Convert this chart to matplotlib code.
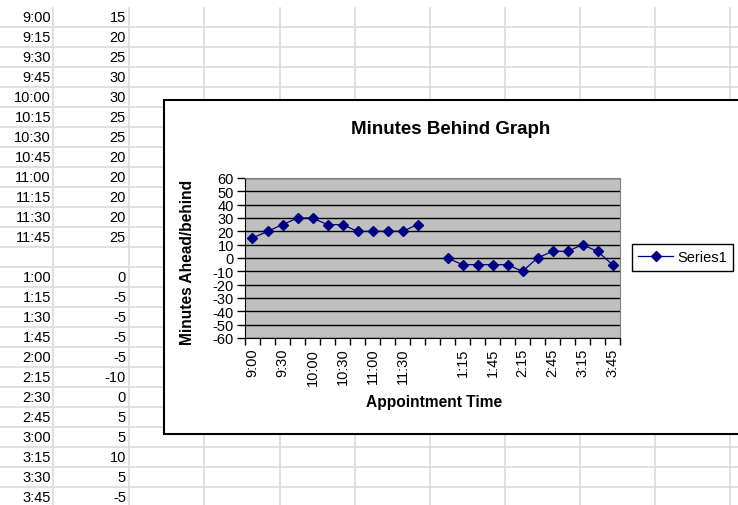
import numpy as np
import matplotlib.pyplot as plt
from matplotlib.patches import Rectangle

plt.rcParams['font.family'] = ['Liberation Sans', 'DejaVu Sans']
plt.rcParams['axes.unicode_minus'] = False

# spreadsheet data (two blocks, blank row between)
times_am = ['9:00', '9:15', '9:30', '9:45', '10:00', '10:15', '10:30', '10:45',
            '11:00', '11:15', '11:30', '11:45']
vals_am = [15, 20, 25, 30, 30, 25, 25, 20, 20, 20, 20, 25]
times_pm = ['1:00', '1:15', '1:30', '1:45', '2:00', '2:15', '2:30', '2:45',
            '3:00', '3:15', '3:30', '3:45']
vals_pm = [0, -5, -5, -5, -5, -10, 0, 5, 5, 10, 5, -5]

categories = times_am + [''] + times_pm
values = vals_am + [np.nan] + vals_pm

W, H = 738, 506
fig = plt.figure(figsize=(W / 100, H / 100), dpi=100)
fig.patch.set_facecolor('white')

# ---- worksheet background ----
bg = fig.add_axes([0, 0, 1, 1])
bg.set_xlim(0, W)
bg.set_ylim(H, 0)
bg.axis('off')

grid_col = '#dadada'
col_edges = [53, 129, 204, 280, 355, 430, 505, 580, 655, 730]
for x in col_edges:
    bg.plot([x, x], [9, H], color=grid_col, lw=1.2, zorder=1)
for k in range(24):
    y = 28 + 20 * k
    bg.plot([0, W], [y, y], color=grid_col, lw=1.2, zorder=1)

for i, (t, v) in enumerate(zip(categories, values)):
    yc = 18 + 20 * i
    if t == '':
        continue
    bg.text(51, yc, t, ha='right', va='center', fontsize=10.5, zorder=2)
    bg.text(126, yc, f'{int(v)}', ha='right', va='center', fontsize=10.5, zorder=2)

# chart area box
bg.add_patch(Rectangle((164, 101), 700, 334, facecolor='white',
                       edgecolor='black', lw=1.5, zorder=5))

# ---- chart ----
left, right, top, bottom = 245, 620, 179, 339
ax = fig.add_axes([left / W, (H - bottom) / H, (right - left) / W, (bottom - top) / H])
ax.set_facecolor('#c0c0c0')

n = len(categories)
x = np.arange(n)
ax.plot(x, values, color='#000080', lw=0.9, marker='D', ms=5.2,
        markerfacecolor='#000080', markeredgecolor='#000080', label='Series1', zorder=3)

ax.set_xlim(-0.5, n - 0.5)
ax.set_ylim(-60, 60)
ax.set_yticks(np.arange(-60, 61, 10))
ax.yaxis.grid(True, color='black', lw=1.0)
ax.set_axisbelow(True)
ax.tick_params(axis='y', direction='out', length=6, width=1, pad=2, labelsize=10.5)

# tick marks between categories, labels on every second category
ax.set_xticks(np.arange(-0.5, n, 1.0))
ax.set_xticklabels([])
ax.set_xticks(x[::2], minor=True)
ax.set_xticklabels(categories[::2], minor=True, rotation=90)
ax.tick_params(axis='x', which='major', direction='out', length=5, width=1)
ax.tick_params(axis='x', which='minor', length=0, pad=7, labelsize=10.5)

for s in ['top', 'right']:
    ax.spines[s].set_color('#808080')
for s in ['left', 'bottom']:
    ax.spines[s].set_color('black')

ax.set_ylabel('Minutes Ahead/behind', fontsize=11.2, fontweight='bold')
ax.yaxis.set_label_coords(-0.133, 0.48)
ax.set_xlabel('Appointment Time', fontsize=11.2, fontweight='bold')
ax.xaxis.set_label_coords(0.504, -0.35)

fig.text(451 / W, 1 - 129 / H, 'Minutes Behind Graph', ha='center', va='center',
         fontsize=13.5, fontweight='bold')

fig.legend(loc='center', bbox_to_anchor=(682.5 / W, 1 - 258.5 / H), frameon=True,
           fancybox=False, edgecolor='black', framealpha=1, fontsize=10.5,
           handlelength=2.4, borderpad=0.45, handletextpad=0.25, borderaxespad=0)

fig.savefig('out.png', dpi=100)
